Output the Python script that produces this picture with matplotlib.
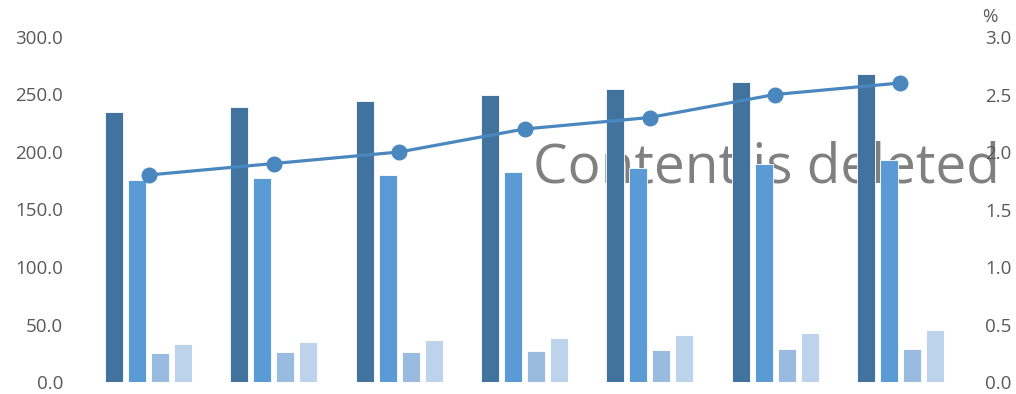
import matplotlib
matplotlib.use("Agg")
import matplotlib.pyplot as plt
import numpy as np

plt.rcParams['font.family'] = ['Open Sans', 'DejaVu Sans']

categories = ["1", "2", "3", "4", "5", "6", "7"]
series_a = [235.0, 239.5, 244.0, 249.5, 255.0, 261.0, 268.0]
series_b = [175.5, 177.5, 180.0, 182.5, 186.0, 189.5, 193.0]
series_c = [25.0, 25.8, 26.5, 27.0, 28.0, 28.7, 29.0]
series_d = [33.0, 34.8, 36.5, 38.5, 41.0, 43.0, 45.5]
rate_pct = [1.8, 1.9, 2.0, 2.2, 2.3, 2.5, 2.6]

left_ticks = [0, 50, 100, 150, 200, 250, 300]
right_ticks = [0.0, 0.5, 1.0, 1.5, 2.0, 2.5, 3.0]

bar_colors = ["#41739E", "#5B9BD5", "#9ABBE0", "#BDD3EC"]
line_color = "#4A87BF"
tick_color = "#595959"

fig = plt.figure(figsize=(10.16, 3.94), dpi=100)
ax = fig.add_axes([86 / 1016, 1 - 382 / 394, (963 - 86) / 1016, (382 - 37) / 394])
ax2 = ax.twinx()

x = np.arange(len(categories))
width = 0.1437
step = 0.1836
for i, (vals, col) in enumerate(zip([series_a, series_b, series_c, series_d], bar_colors)):
    ax.bar(x + (i - 1.5) * step, vals, width=width, color=col,
           edgecolor="white", linewidth=0.6, zorder=3)

ax2.plot(x, rate_pct, color=line_color, linewidth=2.3, marker="o",
         markersize=10.5, zorder=5)

ax.set_xlim(-0.5, len(categories) - 0.5)
ax.set_ylim(0, 300)
ax2.set_ylim(0, 3.0)
ax.set_yticks(left_ticks)
ax.set_yticklabels([f"{v:.1f}" for v in left_ticks])
ax2.set_yticks(right_ticks)
ax2.set_yticklabels([f"{v:.1f}" for v in right_ticks])
ax.set_xticks([])

for a in (ax, ax2):
    for s in a.spines.values():
        s.set_visible(False)
    a.tick_params(axis="y", length=0, labelsize=13.5, labelcolor=tick_color)
ax.tick_params(axis="y", pad=16.5)
ax2.tick_params(axis="y", pad=16)

ax2.set_zorder(ax.get_zorder() + 1)
ax2.patch.set_visible(False)

fig.text(990 / 1016, 1 - 17 / 394, "%", ha="center", va="center",
         fontsize=13.5, color=tick_color)

# faded watermark behind the bars
ax.text(0.5097, 0.577, "Content is deleted", transform=ax.transAxes,
        fontsize=39.5, color="#808080", ha="left", va="baseline", zorder=1)

fig.savefig("out.png", dpi=100)
